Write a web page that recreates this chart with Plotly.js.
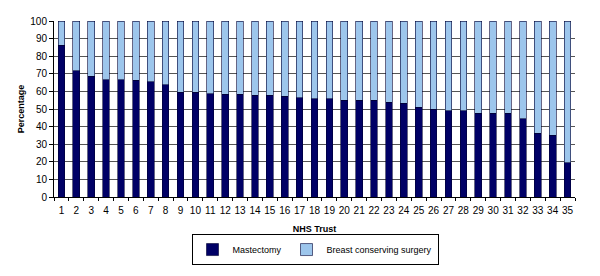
<!DOCTYPE html>
<html><head><meta charset="utf-8">
<script src="https://cdn.plot.ly/plotly-3.0.1.min.js"></script>
<style>html,body{margin:0;padding:0;background:#fff}#c{width:600px;height:276px}</style>
</head><body><div id="c"></div>
<script>
const trusts = ["1","2","3","4","5","6","7","8","9","10","11","12","13","14","15","16","17","18","19","20","21","22","23","24","25","26","27","28","29","30","31","32","33","34","35"];
const mastectomy = [86.3,71.7,68.5,66.6,66.6,66.2,65.5,63.7,59.4,59.4,58.6,58.3,58.3,57.7,57.7,57.3,56.4,55.8,55.8,55.0,55.0,55.0,53.9,53.2,50.9,49.9,48.9,48.9,47.6,47.6,47.6,44.6,36.3,35.1,19.4];
const bcs = mastectomy.map(v => +(100 - v).toFixed(1));
const yTicks = [0,10,20,30,40,50,60,70,80,90,100];

const font = {family: "Liberation Sans, Arial, sans-serif", size: 10, color: "#000"};
Plotly.newPlot("c", [
  {type: "bar", name: "Mastectomy", x: trusts, y: mastectomy,
   marker: {color: "#000066", line: {color: "#000033", width: 0.6}}},
  {type: "bar", name: "Breast conserving surgery", x: trusts, y: bcs,
   marker: {color: "#9DC6EC", line: {color: "#000033", width: 0.6}}}
], {
  barmode: "stack", bargap: 0.55,
  width: 600, height: 276,
  margin: {l: 54, r: 25, t: 21, b: 79, pad: 0},
  paper_bgcolor: "#fff", plot_bgcolor: "#fff",
  font: font,
  showlegend: true,
  legend: {orientation: "h", x: 0.525, xref: "container", xanchor: "center",
    y: 0.152, yref: "container", yanchor: "top",
    bordercolor: "#000", borderwidth: 1, font: {family: font.family, size: 9, color: "#000"},
    traceorder: "normal", itemwidth: 30, tracegroupgap: 0},
  xaxis: {type: "category", tickangle: 0, ticks: "outside", tickson: "boundaries", ticklen: 3,
    tickcolor: "#000", showline: true, linecolor: "#000", linewidth: 1, automargin: false,
    ticklabelstandoff: 4,
    title: {text: "<b>NHS Trust</b>", font: {family: font.family, size: 9, color: "#000"}, standoff: 13},
    tickfont: {family: font.family, size: 10, color: "#000"}},
  yaxis: {range: [0, 100], tickvals: yTicks, ticktext: yTicks.map(String), ticks: "outside", ticklen: 4,
    tickcolor: "#000", showline: true, linecolor: "#000", linewidth: 1, automargin: false,
    showgrid: true, gridcolor: "#555", gridwidth: 1, zeroline: false,
    title: {text: "<b>Percentage</b>", font: {family: font.family, size: 9, color: "#000"}, standoff: 4},
    tickfont: {family: font.family, size: 10, color: "#000"}}
}, {staticPlot: true});
</script></body></html>
